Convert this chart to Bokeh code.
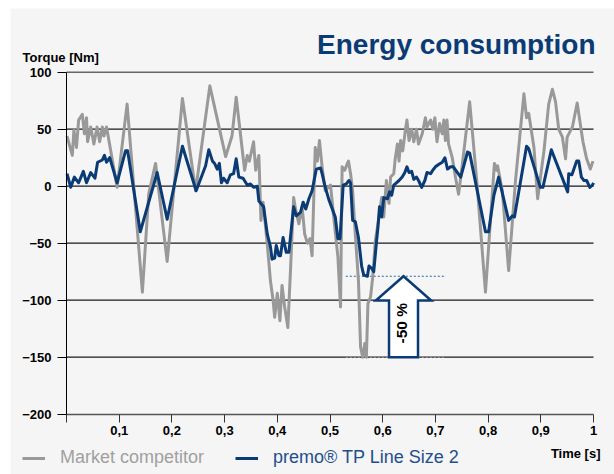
import math
from bokeh.plotting import figure
from bokeh.models import (Range1d, FixedTicker, Label, Legend, LegendItem,
                          LinearAxis)
from bokeh.embed import file_html
from bokeh.resources import INLINE

# ---- data ----
comp_t = [0.001,0.011,0.014,0.019,0.023,0.030,0.034,0.038,0.040,0.046,
          0.052,0.058,0.063,0.068,0.071,0.076,0.096,0.115,0.144,0.156,
          0.169,0.191,0.220,0.245,0.272,0.302,0.314,0.322,0.338,0.343,
          0.347,0.355,0.359,0.365,0.369,0.373,0.381,0.387,0.392,0.395,
          0.400,0.405,0.409,0.414,0.420,0.425,0.431,0.435,0.441,0.447,
          0.452,0.457,0.462,0.466,0.472,0.476,0.480,0.485,0.491,0.501,
          0.507,0.515,0.520,0.523,0.528,0.533,0.535,0.539,0.543,0.548,
          0.554,0.558,0.562,0.566,0.569,0.572,0.577,0.581,0.586,0.593,
          0.598,0.602,0.607,0.612,0.615,0.621,0.624,0.628,0.631,0.634,
          0.638,0.643,0.646,0.650,0.655,0.659,0.664,0.668,0.675,0.681,
          0.684,0.691,0.695,0.699,0.703,0.708,0.713,0.716,0.719,0.722,
          0.725,0.732,0.738,0.744,0.749,0.765,0.779,0.795,0.812,0.816,
          0.818,0.827,0.839,0.852,0.868,0.873,0.877,0.887,0.894,0.906,
          0.915,0.922,0.928,0.934,0.941,0.947,0.950,0.960,0.969,0.980,
          0.987,0.994,0.999]
comp_v = [44,27,49,34,58,63,46,60,39,52,
          37,52,39,52,44,52,-1,72,-93,-7,
          20,-66,77,-4,88,26,44,78,14,27,
          22,39,14,27,-30,-14,-51,-83,-100,-115,
          -94,-118,-87,-106,-124,-74,-10,-21,-33,-18,
          -42,-50,-46,-61,34,22,40,17,-4,1,
          -27,-62,-106,17,14,20,22,11,-4,-42,
          -83,-141,-150,-138,-150,-103,-97,-80,-48,-27,
          -10,-27,5,-15,8,11,25,37,22,40,
          31,49,58,40,50,39,50,37,46,60,
          52,58,50,60,39,55,46,58,40,58,
          37,25,8,-7,11,74,2,-93,20,14,
          18,-4,-74,5,81,60,64,34,-11,31,
          72,85,74,50,43,24,43,52,73,39,
          24,15,22]

prem_t = [0.001,0.008,0.015,0.023,0.032,0.038,0.046,0.054,0.059,0.068,
          0.072,0.076,0.082,0.096,0.112,0.116,0.140,0.172,0.191,0.220,
          0.246,0.264,0.270,0.277,0.281,0.286,0.290,0.294,0.298,0.305,
          0.311,0.317,0.322,0.327,0.335,0.343,0.349,0.355,0.362,0.365,
          0.374,0.381,0.387,0.390,0.395,0.398,0.403,0.406,0.411,0.417,
          0.422,0.431,0.436,0.444,0.449,0.454,0.460,0.466,0.474,0.482,
          0.485,0.491,0.498,0.510,0.515,0.519,0.525,0.531,0.536,0.539,
          0.543,0.548,0.554,0.560,0.564,0.571,0.574,0.579,0.583,0.588,
          0.591,0.594,0.598,0.602,0.609,0.613,0.617,0.621,0.626,0.631,
          0.637,0.642,0.646,0.650,0.655,0.659,0.664,0.668,0.674,0.680,
          0.684,0.691,0.695,0.700,0.706,0.713,0.718,0.723,0.729,0.734,
          0.748,0.761,0.765,0.795,0.801,0.811,0.820,0.839,0.846,0.850,
          0.873,0.877,0.899,0.904,0.920,0.951,0.953,0.959,0.962,0.968,
          0.972,0.977,0.982,0.987,0.993,0.998,1.0]
prem_v = [11,-1,8,3,13,3,12,7,21,23,
          27,21,25,3,31,31,-40,12,-29,35,
          -4,18,32,22,20,15,20,3,7,3,
          10,11,24,8,7,1,2,-1,0,-13,
          -18,-42,-53,-64,-63,-52,-61,-61,-45,-58,
          -58,-18,-26,-23,-14,-20,-11,-4,15,16,
          11,-1,-12,-27,-46,-46,1,2,5,3,
          -30,-31,-45,-70,-78,-79,-70,-72,-75,-50,
          -36,-18,-27,-10,-11,-5,-8,1,3,5,
          8,12,17,12,13,6,8,5,-1,5,
          12,11,14,17,19,21,25,15,17,17,
          8,30,29,-40,-40,-8,8,-30,-26,-27,
          35,33,-1,-1,32,-5,11,10,14,22,
          22,8,5,5,-1,1,3]

y_ticks = [-200, -150, -100, -50, 0, 50, 100]
x_ticks = [0, 0.1, 0.2, 0.3, 0.4, 0.5, 0.6, 0.7, 0.8, 0.9, 1.0]
x_tick_labels = ["", "0,1", "0,2", "0,3", "0,4", "0,5", "0,6", "0,7", "0,8", "0,9", "1"]
series_names = ["Market competitor", "premo\u00ae TP Line Size 2"]
reduction_text = "-50 %"

# ---- style / layout ----
W, H = 614, 474
X0_PX, X1_PX = 66.0, 593.0      # pixel columns of t=0 and t=1
YT_PX, YB_PX = 71.7, 413.7      # pixel rows of 100 and -200
BG = "#f5f5f5"
NAVY = "#0b3b74"
GRAY = "#999999"
FONT = "Liberation Sans"

t_lo, t_hi = x_ticks[0], x_ticks[-1]
v_lo, v_hi = y_ticks[0], y_ticks[-1]
sx = (X1_PX - X0_PX) / (t_hi - t_lo)
sy = (YB_PX - YT_PX) / (v_hi - v_lo)
xr = Range1d(t_lo - X0_PX / sx, t_lo + (W - X0_PX) / sx)
yr = Range1d(v_hi - (H - YT_PX) / sy, v_hi + YT_PX / sy)

def px2t(px):
    return t_lo + (px - X0_PX) / sx

def py2v(py):
    return v_hi - (py - YT_PX) / sy

p = figure(width=W, height=H, min_border=0, x_range=xr, y_range=yr,
           x_axis_location=None, y_axis_location=None,
           output_backend="svg", toolbar_location=None,
           background_fill_color="white", border_fill_color="white",
           outline_line_color=None)
p.xgrid.visible = False
p.ygrid.visible = False

# grey panel
p.quad(left=px2t(10), right=px2t(W + 5), top=py2v(8), bottom=py2v(H + 5),
       fill_color=BG, line_color=None, level="image")

# grid lines (from tick values)
grid_vals = [v for v in y_ticks if v_lo < v < v_hi]
p.segment(x0=[t_lo] * len(grid_vals), x1=[t_hi] * len(grid_vals),
          y0=grid_vals, y1=grid_vals, line_color="#1a1a1a", line_width=1.2)
p.segment(x0=[t_lo], x1=[t_hi], y0=[v_hi], y1=[v_hi],
          line_color="#666666", line_width=1.5)

# axes
yax = LinearAxis(fixed_location=t_lo, bounds=(v_lo, v_hi),
                 ticker=FixedTicker(ticks=y_ticks))
yax.axis_line_color = "black"
yax.axis_line_width = 1
yax.major_tick_line_color = "black"
yax.major_tick_out = 9
yax.major_tick_in = 0
yax.minor_tick_line_color = None
yax.major_label_standoff = 6
yax.major_label_text_font = FONT
yax.major_label_text_font_style = "bold"
yax.major_label_text_font_size = "13px"
yax.major_label_text_color = "black"
p.add_layout(yax, "left")

xax = LinearAxis(fixed_location=v_lo, bounds=(t_lo, t_hi),
                 ticker=FixedTicker(ticks=x_ticks))
xax.major_label_overrides = {t: l for t, l in zip(x_ticks, x_tick_labels)}
xax.axis_line_color = "#555555"
xax.axis_line_width = 1.5
xax.major_tick_line_color = "#333333"
xax.major_tick_out = 8
xax.major_tick_in = 0
xax.minor_tick_line_color = None
xax.major_label_standoff = 4
xax.major_label_text_font = FONT
xax.major_label_text_font_style = "bold"
xax.major_label_text_font_size = "13px"
xax.major_label_text_color = "black"
p.add_layout(xax, "below")

# reference levels
low_comp = min(comp_v)
low_prem = min(prem_v)
ref_x0, ref_x1 = 0.53, 0.72
p.line([ref_x0, ref_x1], [low_prem, low_prem], line_color="#2a64a8",
       line_width=1, line_dash="2 2")
p.line([ref_x0, ref_x1], [low_comp, low_comp], line_color="#aaaaaa",
       line_width=1, line_dash="2 2")

# series
r_comp = p.line(comp_t, comp_v, line_color=GRAY, line_width=3, line_join="round")
r_prem = p.line(prem_t, prem_v, line_color=NAVY, line_width=3, line_join="round")

# arrow
ax_c = 0.6395
shaft_hw = 0.0275
head_hw = 0.0525
head_base = low_prem - 0.3 * (low_prem - low_comp)
arrow_x = [ax_c - shaft_hw, ax_c - shaft_hw, ax_c - head_hw, ax_c,
           ax_c + head_hw, ax_c + shaft_hw, ax_c + shaft_hw]
arrow_y = [low_comp, head_base, head_base, low_prem,
           head_base, head_base, low_comp]
p.patch(arrow_x, arrow_y, fill_color="white", line_color=NAVY,
        line_width=2.5, line_join="miter")
p.add_layout(Label(x=ax_c - 0.003, y=(low_comp + head_base) / 2 + 5,
                   text=reduction_text, angle=math.pi / 2,
                   text_align="center", text_baseline="middle",
                   text_font=FONT, text_font_style="bold",
                   text_font_size="15.5px", text_color="black"))

# texts
p.add_layout(Label(x=px2t(595), y=py2v(44), text="Energy consumption",
                   text_align="right", text_baseline="middle",
                   text_font=FONT, text_font_style="bold",
                   text_font_size="28px", text_color=NAVY))
p.add_layout(Label(x=px2t(22), y=py2v(57), text="Torque [Nm]",
                   text_align="left", text_baseline="middle",
                   text_font=FONT, text_font_style="bold",
                   text_font_size="13px", text_color="black"))
p.add_layout(Label(x=px2t(600), y=py2v(453), text="Time [s]",
                   text_align="right", text_baseline="middle",
                   text_font=FONT, text_font_style="bold",
                   text_font_size="13px", text_color="black"))

# legends
def make_legend(label, rend, loc, color):
    lg = Legend(items=[LegendItem(label=label, renderers=[rend])],
                location=loc, orientation="horizontal",
                glyph_width=23, glyph_height=20, label_height=20,
                label_standoff=15, padding=0, spacing=0, margin=0,
                border_line_color=None, background_fill_alpha=0,
                label_text_font=FONT, label_text_font_size="18px",
                label_text_color=color)
    p.add_layout(lg)

make_legend(series_names[0], r_comp, (22, 6), "#a0a0a0")
make_legend(series_names[1], r_prem, (235, 6), "#1f4e8c")

open("out.html", "w").write(file_html(p, INLINE))
